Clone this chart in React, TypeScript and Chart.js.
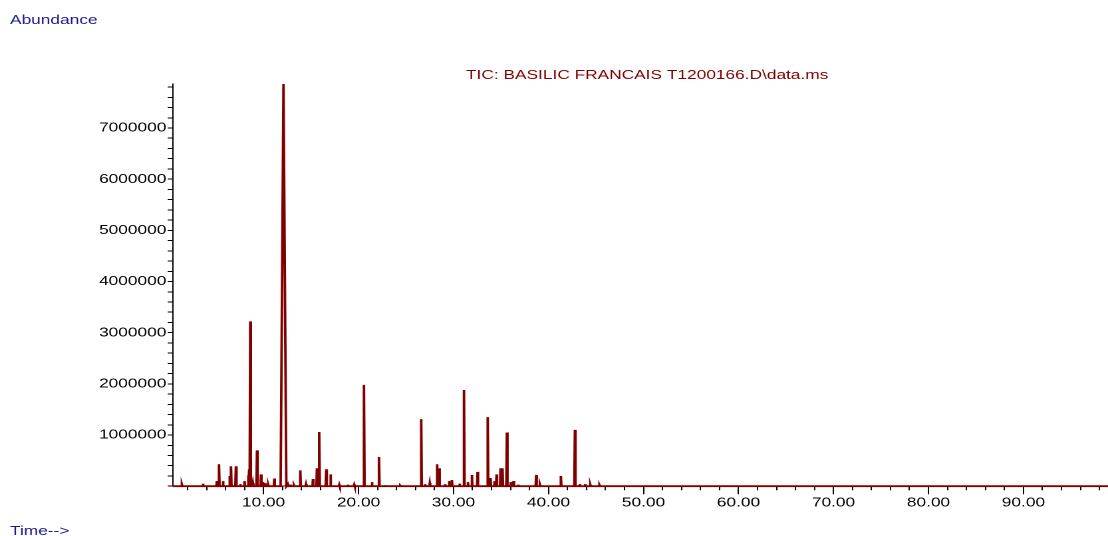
import React, { useEffect, useRef } from "react";
import { Chart, registerables } from "chart.js";

Chart.register(...registerables);

// ---- Data (retention time in minutes, abundance in counts) ----
const retentionTimes = [
  1.41, 3.62, 5.09, 5.31, 5.73, 6.42, 6.57, 7.09, 7.55, 8.0,
  8.36, 8.49, 8.6, 8.88, 9.31, 9.73, 9.94, 10.18, 10.5, 11.13,
  12.1, 12.55, 12.85, 13.2, 13.87, 14.47, 15.2, 15.62, 15.86, 16.6,
  17.05, 17.97, 18.88, 19.55, 20.57, 21.41, 22.15, 22.81, 24.4, 26.6,
  27.0, 27.5, 28.25, 28.49, 29.1, 29.55, 29.83, 30.63, 31.1, 31.52,
  31.94, 32.53, 33.6, 33.9, 34.28, 34.53, 34.95, 35.16, 35.62, 36.04,
  36.32, 36.8, 38.7, 39.1, 41.3, 42.78, 43.3, 43.86, 44.4, 45.37,
];

const abundances = [
  30000, 50000, 100000, 430000, 100000, 200000, 390000, 390000, 40000, 100000,
  210000, 330000, 3220000, 60000, 700000, 230000, 80000, 60000, 30000, 150000,
  7860000, 40000, 30000, 20000, 310000, 40000, 140000, 350000, 1060000, 330000,
  230000, 30000, 30000, 30000, 1980000, 80000, 570000, 20000, 10000, 1310000,
  40000, 60000, 430000, 350000, 40000, 100000, 120000, 50000, 1880000, 80000,
  220000, 280000, 1350000, 160000, 100000, 230000, 350000, 350000, 1050000, 80000,
  100000, 30000, 220000, 30000, 200000, 1100000, 40000, 40000, 30000, 20000,
];

// base width of each peak, minutes
const peakWidths = [
  0.1, 0.1, 0.1, 0.12, 0.1, 0.1, 0.12, 0.12, 0.1, 0.1,
  0.1, 0.1, 0.12, 0.1, 0.12, 0.1, 0.1, 0.1, 0.1, 0.1,
  0.6, 0.1, 0.1, 0.1, 0.12, 0.1, 0.1, 0.1, 0.12, 0.12,
  0.1, 0.1, 0.1, 0.1, 0.14, 0.1, 0.12, 0.1, 0.1, 0.12,
  0.1, 0.1, 0.12, 0.1, 0.1, 0.1, 0.1, 0.1, 0.12, 0.1,
  0.1, 0.1, 0.12, 0.1, 0.1, 0.1, 0.1, 0.1, 0.12, 0.1,
  0.1, 0.1, 0.12, 0.1, 0.12, 0.12, 0.1, 0.1, 0.1, 0.1,
];

const timeMin = 0.47;
const timeMax = 98.9;
const abundanceMax = 7860000;
const yTickStep = 200000;
const yLabelStep = 1000000;
const xMinorStep = 2;
const xMajorStep = 10;

const titleText = "TIC: BASILIC FRANCAIS T1200166.D\\data.ms";
const yAxisText = "Abundance";
const xAxisText = "Time-->";

// ---- Layout (logical canvas is stretched horizontally to the page width) ----
const LOGICAL_W = 833;
const LOGICAL_H = 536;
const PAGE_W = 1108;
const SX = PAGE_W / LOGICAL_W;

const FONT = '"Liberation Sans", Arial, Helvetica, sans-serif';
const LINE_COLOR = "#800000";
const LABEL_BLUE = "#1c1c8f";

const isMultiple = (v: number, step: number) =>
  Math.abs(v / step - Math.round(v / step)) < 1e-6;

// tick values at every multiple of step inside [lo, hi]
const stepTicks = (lo: number, hi: number, step: number, skipStep?: number) => {
  const out: { value: number }[] = [];
  for (let k = Math.ceil(lo / step - 1e-9); k * step <= hi + 1e-9; k++) {
    const v = Math.round(k * step * 1000) / 1000;
    if (skipStep && isMultiple(v, skipStep)) continue;
    out.push({ value: v });
  }
  return out;
};

const textPlugin = {
  id: "gcText",
  afterDraw(chart: any) {
    const ctx = chart.ctx as CanvasRenderingContext2D;
    ctx.save();
    ctx.font = `13px ${FONT}`;
    ctx.textAlign = "left";
    ctx.textBaseline = "alphabetic";
    ctx.fillStyle = LABEL_BLUE;
    ctx.fillText(yAxisText, 10 / SX, 24);
    ctx.fillText(xAxisText, 10 / SX, 535);
    ctx.fillStyle = LINE_COLOR;
    ctx.fillText(titleText, 466 / SX, 79);
    ctx.restore();
  },
};

export default function App() {
  const canvasRef = useRef<HTMLCanvasElement | null>(null);

  useEffect(() => {
    const canvas = canvasRef.current;
    if (!canvas) return;

    const points: { x: number; y: number }[] = [{ x: timeMin, y: 0 }];
    retentionTimes.forEach((t, i) => {
      const hw = peakWidths[i] / 2;
      points.push({ x: t - hw, y: 0 }, { x: t, y: abundances[i] }, { x: t + hw, y: 0 });
    });
    points.push({ x: timeMax, y: 0 });

    const chart = new Chart(canvas, {
      type: "line",
      data: {
        datasets: [
          {
            data: points,
            borderColor: LINE_COLOR,
            backgroundColor: LINE_COLOR,
            borderWidth: 1.9,
            pointRadius: 0,
            tension: 0,
            clip: false,
            xAxisID: "x",
            yAxisID: "y",
          } as any,
        ],
      },
      plugins: [textPlugin],
      options: {
        animation: false,
        responsive: false,
        devicePixelRatio: 2,
        events: [],
        layout: { padding: { top: 84, right: 0, bottom: 0, left: 0 } },
        plugins: {
          legend: { display: false },
          tooltip: { enabled: false },
          title: { display: false },
        },
        scales: {
          x: {
            type: "linear",
            position: "bottom",
            weight: 1,
            min: timeMin,
            max: timeMax,
            afterBuildTicks: (scale: any) => {
              scale.ticks = stepTicks(timeMin, timeMax, xMajorStep);
            },
            afterFit: (scale: any) => {
              scale.height = LOGICAL_H - 486.2;
            },
            ticks: {
              autoSkip: false,
              maxRotation: 0,
              padding: 1,
              color: "#000",
              font: { family: FONT, size: 13 },
              callback: (v: any) => Number(v).toFixed(2),
            },
            grid: {
              drawOnChartArea: false,
              drawTicks: true,
              tickLength: 8,
              tickColor: "#000",
              tickWidth: 1,
            },
            border: { display: true, color: LINE_COLOR, width: 1 },
          },
          xMinor: {
            type: "linear",
            position: "bottom",
            weight: 0,
            min: timeMin,
            max: timeMax,
            afterBuildTicks: (scale: any) => {
              scale.ticks = stepTicks(timeMin, timeMax, xMinorStep, xMajorStep);
            },
            afterFit: (scale: any) => {
              scale.height = 0;
            },
            ticks: { display: false, autoSkip: false },
            grid: {
              drawOnChartArea: false,
              drawTicks: true,
              tickLength: 4,
              tickColor: "#000",
              tickWidth: 1,
            },
            border: { display: false },
          },
          y: {
            type: "linear",
            position: "left",
            min: 0,
            max: abundanceMax,
            afterBuildTicks: (scale: any) => {
              scale.ticks = stepTicks(0, abundanceMax, yTickStep);
            },
            afterFit: (scale: any) => {
              scale.width = 173 / SX;
            },
            ticks: {
              autoSkip: false,
              padding: 1,
              color: "#000",
              font: { family: FONT, size: 13 },
              callback: (v: any) => {
                const n = Number(v);
                return n > 0 && isMultiple(n, yLabelStep) ? String(Math.round(n)) : "";
              },
            },
            grid: {
              drawOnChartArea: false,
              drawTicks: true,
              tickLength: 4,
              tickColor: "#000",
              tickWidth: 1,
            },
            border: { display: true, color: "#000", width: 1 },
          },
        },
      } as any,
    });

    return () => {
      chart.destroy();
    };
  }, []);

  return (
    <div style={{ position: "fixed", left: 0, top: 0, width: PAGE_W, height: LOGICAL_H, background: "#fff" }}>
      <canvas
        ref={canvasRef}
        width={LOGICAL_W}
        height={LOGICAL_H}
        style={{ display: "block", width: `${PAGE_W}px`, height: `${LOGICAL_H}px` }}
      />
    </div>
  );
}
